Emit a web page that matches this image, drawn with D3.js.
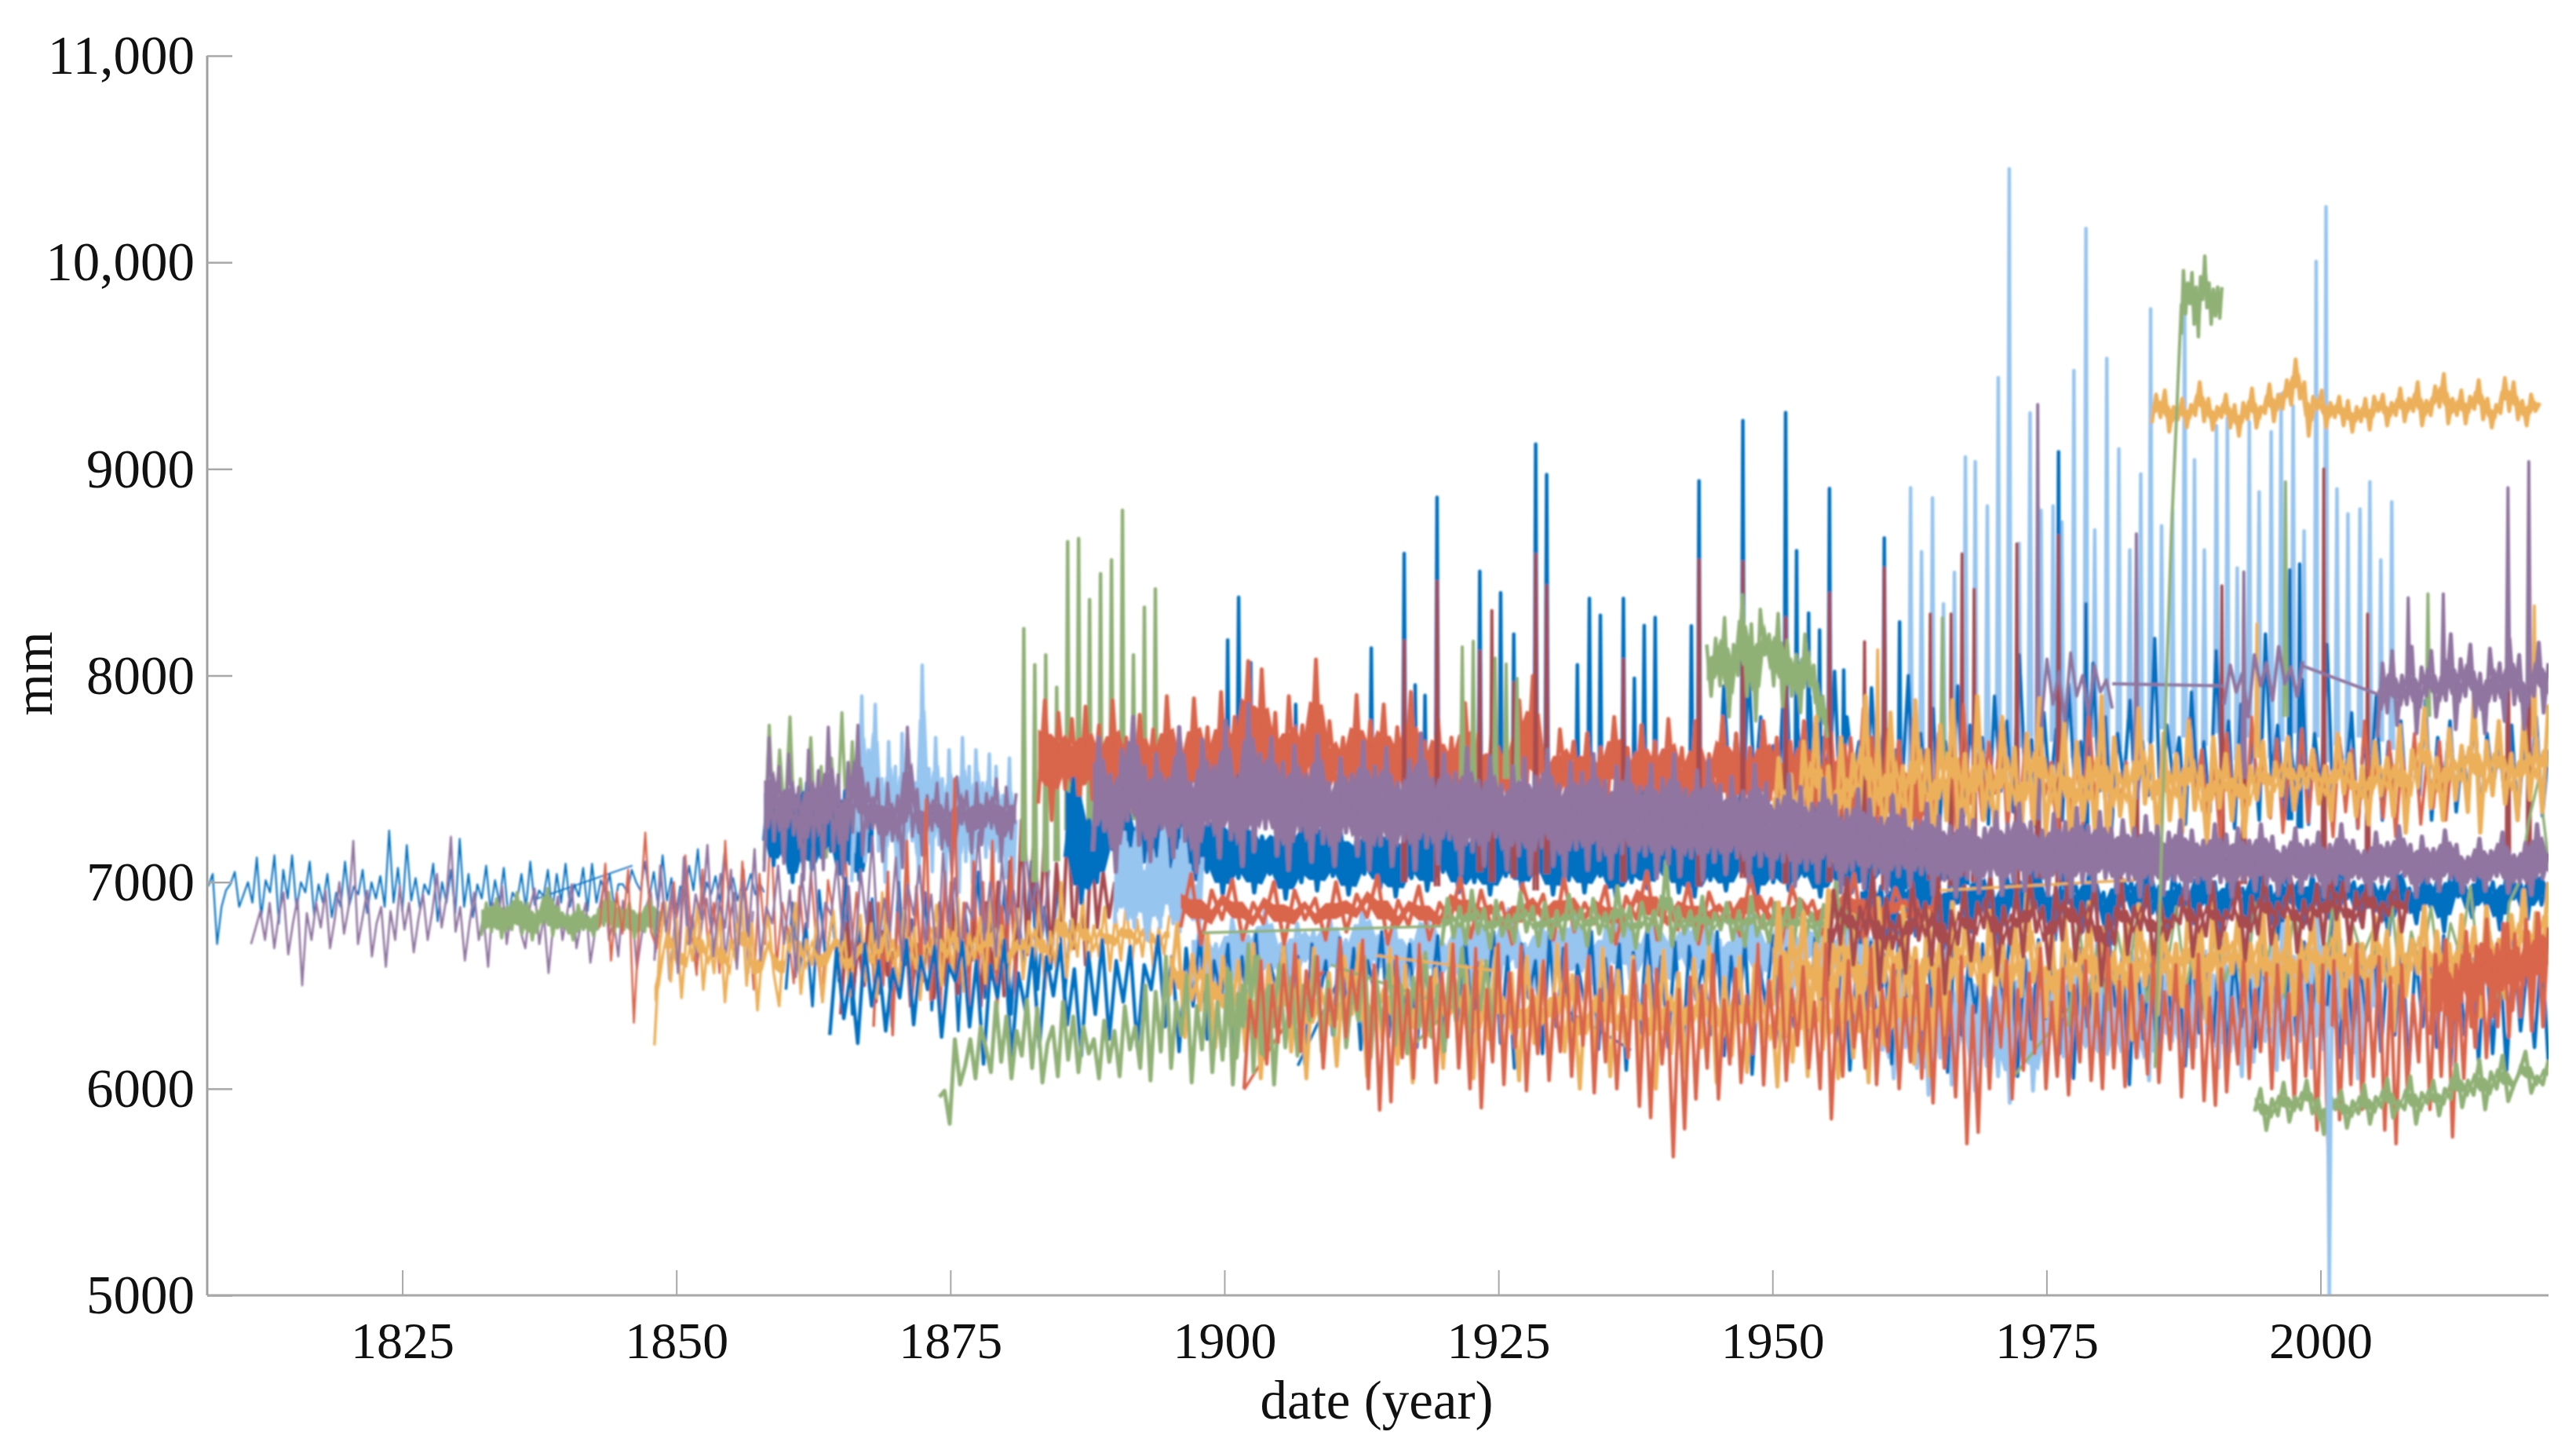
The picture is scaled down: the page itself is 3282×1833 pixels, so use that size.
<!DOCTYPE html>
<html>
<head>
<meta charset="utf-8">
<script src="https://cdn.jsdelivr.net/npm/d3@7"></script>
<style>
  html, body { margin: 0; background: #fff; }
  text { font-family: "Liberation Serif", "Times New Roman", serif; fill: #111; }
</style>
</head>
<body>
<script>
const yTicks = [5000, 6000, 7000, 8000, 9000, 10000, 11000];
const yLabels = ["5000", "6000", "7000", "8000", "9000", "10,000", "11,000"];
const xTicks = [1825, 1850, 1875, 1900, 1925, 1950, 1975, 2000];

// early records, 1807-1858
const blueEarly = [6980,7040,6700,6880,6960,6990,7050,6880,6940,7000,6900,7120,6830,7010,6950,7130,6800,7060,6920,7130,6870,7000,6950,7100,6840,6990,6900,7040,6830,6950,6880,7100,6890,6980,6940,7060,6850,7000,6920,7030,6880,7250,6900,7070,6860,7180,6910,7020,6870,6990,6940,7090,6810,7000,6900,7060,6850,7210,6880,7040,6830,6990,6920,7080,6860,7010,6900,7070,6840,6950,6910,7040,6870,7100,6890,6960,6930,7060,6850,7040,6900,7090,6880,6990,6930,7070,6860,7090,6900,7010,6950,7040,6880,6990,6990,6950,7060,7000,6960,7100,6930,7050,6880,7130,6910,7020,6850,6980,6930,7080,6960,7160,6880,7000,6940,7030,6900,7140,6950,7020,6910,6990,6960,7040,6940,7000,6950];
const purpleEarly = [6700,6780,6860,6720,6900,6680,6840,6950,6650,6800,6920,6500,6850,6720,6900,6780,6960,6680,6820,7000,6750,6880,7200,6700,6830,6960,6640,6800,6880,6590,6860,6720,6980,6770,6900,6660,6820,6940,6720,6860,7040,6780,6920,7220,6760,6880,6620,6800,6950,6720,6840,6590,6900,6780,6980,6700,6860,6920,6760,6680,6880,6970,6700,6840,6560,6790,6930,6720,6850,6990,6680,6800,6900,6610,6760,6880,7000,6720,6820,6640,6910,6780,6860,6580,6740,6880,6950,6660,6810,6900,6530,6770,6880,7010,6700,6840,6600,6800,6920,6760,6880,7040,6620,6820,6950,6700,7060,6560,6860];
const greenEarly = [6740,6900,6760,6920,6730,6880,6770,6950,6750,6900,6720,6860,6800,6970,6740,6880,6780,6840,6720,6890,6770,6830,6740,6870,6790,6950,6750,6880,6770,6900,6730,6850,6760,6920,6740,6860];
const redEarly = [6780,7090,6620,6950,6750,7060,6320,6840,7240,6760,6680,6900,6700,7000,6640,7130,6780,6550,7060,6690,6900,6560,7200,6740,6600,7100,6820,6480,7040,6700,7300,6580,6900,6760,6510,6980,6640,7050,6700,6420,7010,6830,6570,7180,6640,6950,6480,6860,6720];
const orangeEarly = [6210,6700,6900,6520,6820,6440,6780,6620,6900,6480,6750,6560,6860,6420,6720,6620,6950,6500,6800,6380,6700,6840,6560,6400,6780,6660,6900,6460,6720,6600,6820,6420,6700,6860,6540,6760,6450,6690,6840,6520,6800,6440,6950,6620,6720,6480,6860,6580,6780,6430,6720,6650,6890,6500,6800,6560,6920,6470,6750,6620,6830,6510,6930,6580,6790,6460,6700,6870,6530,6810,6620,6900,6480,6760,6590,7000,6540,6820,6640,6930,6560,6790,6640,6880,6570,6850,6620,6900,6600,6820,6640,6880,6580,6780,6650,6840];
const purpleMix = [6620,7080,6760,6980,6560,7120,6700,6940,6820,7180,6640,6900,6780,7060,6580,7000,6740,7160,6620,6880,6800,7080,6700,6960,6540,7040,6780,7200,6650,6900,6840,7100,6720,6980,6600,7060,6800,7220,6680,6920,6760,7120,6620,6990,6840,7080,6700,6940,6580,7140,6780,7020,6660,6900,6820,7240,6720,7000,6640,7100,6800,6960,6700,7180,6860,7020,6760,7060];
const blueMix = [6480,6900,6560,6800,6400,6960,6620,6840,6520,7020,6360,6780,6580,6920,6460,6840,6300,7000,6600,6820,6500,6950,6380,6780,6560,6900,6280,6860,6620,7050,6440,6800,6540,6980,6360,6840,6600,7100,6480,6880,6580,7000,6420,6820];
// dense block that starts in 1858
const green1858 = [7100,7760,7200,7640,7300,7800,7150,7500,7280,7700,7180,7560,7120,7600,7240,7820,7200,7680,7160,7440];
const blue1858 = [7200,7460,7080,7400,7130,7380,7000,7420,7100,7480,7060,7360,7120,7500,7150,7390,7040,7440,7090,7350,7010,7400,7150,7320];
const purple1858 = [7050,7700,7200,7560,7090,7620,7230,7460,7010,7640,7190,7540,7060,7750,7150,7520,7020,7580,7240,7760,7130,7480,7260,7500,7100,7480,7200,7420,7070,7750,7220,7450,7130,7420,7250,7480,7160,7430,7040,7510,7280,7440,7140,7480,7180,7430,7260,7500,7100,7460,7210,7430];
const ltBlue1866 = [7000,7560,7250,7900,7100,7640,7320,7860,7150,7500,7000,7680,7200,7560,6900,7720,7100,7640,7200,7480,7000,8050,7200,7550,7050,7700,7180,7500,6980,7640,7200,7470,6950,7700,7100,7560,7000,7640,7240,7480,7120,7620,7000,7560,7100,7420,7020,7600,6950,7300];
const redBand1868 = [6300,6900,6500,7050,6260,6850,6620,7200,6450,6980,6560,7400,6430,6780,6350,7050,6600,7500,6510,6900,6360,7100,6540,7000,6480,7200,6380,6880,6600,7120,6420];
const darkRed1865 = [6360,6800,6450,6700,6500,6900,6420,6760,6550,6660,6470,6850,6400,6700,6520,6800,6440,6900,6500,7000,6460,6760,6560,6830,6400,6900,6530,7000,6450,7100,6560,7300,6650,7160,6700,7250,6620,7090,6750,7300,6680,7180,6600,7200,6780,7050,6830,7000];
const greenLow1874 = [5960,5990,5830,6240,6020,6110,6240,6050,6300,6200,6080,6420,6130,6350,6050,6280,6160,6430,6100,6390,6030,6220,6300,6060,6420,6140,6350,6080,6300,6170,6240,6050,6330,6130,6280,6060,6400,6190,6300,6100,6500,6040,6470,6180,6640,6100,6420,6260,6550,6030,6400,6190,6550,6080,6420,6140,6580,6020,6460,6300,6700,6080,6640,6160,6500,6020,6400];
const greenSpikeLows = [7100,7000,7050,7100,7250,7300,7200,7150,7300,7350,7300,7250,7300,7350];
const greenSpikeYears = [1881.7,1882.7,1883.7,1884.7,1885.7,1886.7,1887.7,1888.7,1889.7,1890.7,1891.7,1892.7,1893.7];
const greenSpikePeaks = [8227,8052,8100,7943,8648,8663,8368,8493,8560,8800,8100,8331,8419];
// long bands
const redUpper = [7380,7880,7300,7820,7450,7790,7320,7850,7400,7760,7260,7880,7380,7700,7340,7810,7420,7740,7260,7900,7360,7680,7320,7890,7400,7750,7280,7920,7350,7800,7440,8070,7300,8030,7380,7820,7260,7900,7420,7760,7360,8078,7300,7780,7440,7700,7350,7906,7300,7780,7420,7860,7320,7750,7400,7921,7310,7680,7440,7790,7360,7700,7320,7867,7400,7720,7300,7750,7450,7660,7320,7880,7400,7998,7350,7640,7280,7740,7420,7680,7340,7720,7300,7650,7380,7800,7420,7650,7300,7760,7360,7680,7280,7790,7380,7650,7260,7780,7320,7620,7400,7800,7290,7720,7350,7650,7300,7780,7400,7700,7260,7680,7320,7780,7280,7620,7260,7720,7240,7660,7300,7580,7200,7700,7180,7580,7280,7680,7160,7620,7220,7560];
const blueMain = [7120,7500,6900,7300,7000,7350,7160,7450,6980,7260,7100,7400,6950,7300,7080,7320,6960,7250,7050,7340,6940,7280,7020,7300,6950,7220,7040,7260,6920,7240,7000,7320,6960,7280,7030,7240,6940,7200,7040,7280,6970,7250,6930,7210,7020,7290,6960,7230,7050,7300,6950,7200,7000,7280,6940,7240,7030,7260,6970,7190,7040,7270,6940,7230,7010,7280,6950,7240,7030,7180,6930,7260,7000,7230,6970,7190,7040,7280,6950,7210,6930,7260,7010,7190,6960,7230,7050,7170,6940,7250,7000,7200,6960,7240,7030,7190,6930,7230,7010,7160,6950,7260,6980,7210,7040,7180,6920,7240,6990,7170,6940,7210,7020,7180,6960,7140];
const redMid = [6780,7040,6700,6960,6820,7010,6720,6900,6800,7000,6700,6960,6820,6920,6720,7000,6760,6940,6830,7030,6700,6910,6790,6980,6720,6900,6810,7020,6730,6960,6780,6900,6700,6990,6820,6940,6720,7020,6760,6900,6800,6980,6700,6930,6820,7050,6720,6900,6770,6990,6700,6950,6810,6900,6740,7030,6780,6920,6700,6980,6820,6910,6740,6960,6790,7040,6700,6900,6780,6970,6830,6910,6720,6980];
const purpleMain = [7150,7700,7250,7520,7050,7640,7300,7800,7180,7560,7100,7620,7260,7500,7120,7750,7200,7480,7050,7690,7280,7560,7120,7780,7210,7500,7080,7860,7150,7620,7260,7700,7130,7580,7060,7660,7250,7520,7100,7710,7190,7480,7080,7600,7240,7520,7130,7680,7060,7560,7180,7650,7080,7480,7200,7590,7060,7720,7170,7500,7090,7620,7210,7530,7040,7650,7150,7490,7080,7610,7220,7470,7060,7560,7130,7600,7040,7510,7170,7640,7080,7470,7030,7580,7160,7530,7060,7620,7110,7490,7020,7560,7140,7600,7050,7460,7130,7570,7020,7500,7090,7620,7030,7450,7120,7540,7010,7590,7100,7470,7040,7510,7120,7440,7000,7570,7080,7480,7020,7400,7100,7520,6980,7460,7060,7380,7000,7500,7080,7420,6950,7350,7060,7450,6970,7400,7040,7310,6950,7420,7030,7350,6980,7300,7040,7380,6940,7320,7010,7270,6930,7350,7020,7300,6950,7260,7030,7340,6940,7280,7000,7380,6960,7290,7030,7250,6940,7330,7020,7290,6930,7360,7000,7270,6960,7340,7020,7260,6950,7300,7010,7260,6930,7320,6990,7270,6940,7240,7010,7300,6920,7250,7000,7200,6950,7280,7000,7230,6930,7260,7010,7200,6960,7280,6990,7220,6940,7170,7000,7260,6950,7200,7030,7240,6930,7180,6990,7280,6960,7200,7020,7150,6940,7240,7000,7190,6970,7270,7030,7180,6930,7220,7000,7160,6960,7250,7020,7180,6950,7120,7010,7210,6960,7150,7030,7240,6950,7130,7000,7190,6940,7280,7020,7140];
const redLow = [6000,6430,6250,6620,6120,6500,6224,6600,6300,6700,6180,6570,6350,6640,6100,6480,6300,6720,6250,6570,6380,6720,6000,6600,5897,6520,5937,6640,6150,6480,6050,6700,6200,6540,6030,6560,6250,6700,6100,6500,6000,6680,5908,6480,6130,6700,6020,6560,6200,6690,5990,6480,6170,6620,6040,6460,6180,6700,6060,6540,6210,6640,5980,6480,6130,6590,6000,6450,6150,6620,5915,6500,5860,6580,6120,6420,5671,6480,5806,6540,5950,6500,6100,6650,5950,6430,6120,6580,6030,6450,6170,6700,6018,6520,6200,6640,6040,6480,6210,6590,6100,6420,6000,6700,5854,6480,6060,6620,6200,6450,6100,6680,6020,6480,6180,6600,6000,6440,6130,6620,6050,6500,5931,6580,6100,6470,5960,6640,5734,6400,5789,6550,6000,6490,6200,6620,5950,6480,6090,6560,6170,6680,6000,6420,6060,6580,5970,6500,6130,6620,6040,6460,6000,6680,6100,6520,6010,6600,6150,6450,6070,6640,6030,6470,6190,6600,5960,6500,6100,6650,5942,6440,5920,6580,5985,6440,6120,6620,6050,6480,6180,6560,6000,6600,6140,6460,5920,6620,6060,6500,5800,6600,5691,6620,5850,6480,6020,6700,5900,6530,6060,6640,5800,6540,5734,6600,6000,6450,6130,6680,5900,6550,6060,6620,5767,6500,6050,6650,6200,6700,6150,6600,6300,6800,6250,6750,6350,6820,6280,6850,6300,6780];
const orangeLow = [6450,6800,6250,6650,6380,6750,6200,6640,6300,6620,6180,6700,6050,6600,6330,6700,6180,6620,6050,6680,6240,6560,6110,6640,6360,6700,6060,6580,6230,6680,6120,6600,6030,6650,6260,6580,6100,6700,6200,6590,6050,6620,6240,6680,6130,6560,6040,6640,6220,6600,6090,6700,6180,6550,6000,6620,6150,6680,6060,6570,6210,6640,6110,6590,6000,6670,6170,6560,6080,6630,6200,6700,6030,6540,6160,6640,6080,6600,6220,6520,6010,6660,6130,6590,6060,6620,6190,6540,6050,6680,6150,6590,6030,6640,6210,6560,6080,6700,6120,6580,6060,6630];
const blueLow = [6260,6680,6340,6560,6220,6700,6400,6620,6280,6580,6440,6720,6310,6640,6480,6690,6250,6600,6520,6710,6300,6620,6120,6600,6440,6720,6140,6560,6380,6680,6200,6640,6450,6700,6310,6580,6160,6660,6360,6720,6240,6620,6420,6690,6200,6600,6480,6740,6300,6640,6180,6680,6400,6760,6240,6620,6450,6700,6170,6640,6340,6760,6210,6600,6480,6710,6280,6640,6120,6700,6420,6620,6260,6730,6380,6680,6190,6620,6460,6760,6250,6640,6350,6700,6200,6590,6420,6740,6180,6660,6330,6720,6270,6610,6400,6760,6220,6640,6100,6700,6440,6620,6170,6740,6300,6680,6220,6600,6420,6760,6190,6630,6330,6700,6090,6660,6270,6780,6370,6640,6200,6710,6120,6690,6430,6620,6260,6760,6160,6640,6340,6720,6070,6600,6400,6740,6210,6680,6300,6620,6130,6730,6420,6660,6220,6780,6090,6610,6330,6710,6250,6650,6120,6760,6430,6630,6180,6700,6320,6660,6080,6740,6260,6600,6370,6700,6150,6660,6430,6780,6060,6640,6240,6720,6340,6610,6170,6740,6050,6680,6300,6620,6140,6760,6400,6640,6020,6700,6240,6640,6150,6780,6330,6610,6110,6700,6270,6640,6230,6760,6140,6650,6300,6600,6200,6720,6270,6680,6170,6620,6240,6710,6320,6640,6220,6760,6150,6650,6280,6600,6330,6720,6180,6640,6260,6700,6090,6660,6300,6620,6200,6740,6110,6680,6260,6630,6130,6700,6170,6650,6090,6720,6280,6610,6200,6700,6120];
const blueUpper = [7300,7950,7400,7720,7250,8050,7450,7800,7300,7660,7500,8120,7340,7740,7480,7900,7280,7700,7420,8020,7300,7800,7520,7680,7260,7940,7440,7760,7350,7640,7480,8000,7300,7720,7420,7840,7250,7680,7460,7950,7320,7760,7520,7700,7280,7900,7440,7780,7340,8100,7480,7690,7260,7820,7420,7740,7300,7960,7500,7680,7320,8060,7440,7800,7260,7720,7480,7880,7340,7680,7420,8180,7300,7760,7500,7700,7280,7920,7440,7680,7340,8120,7480,7780,7260,7860,7420,7700,7300,8200,7500,7760,7340,7660,7460,7980,7280,7720,7420,8150,7360,7680,7500,7820,7260,7700,7440,7900,7300,7680,7460,7780,7340,7640,7420,7880,7300,7700,7480,7780,7340,7640,7420,7840,7300,7720,7460,7660,7380,7760,7300,7680,7440,7800,7320,7640];
const blueMid = [6700,7040,6820,6980,6650,7060,6880,6960,6740,7100,6850,7000,6680,7040,6900,6980,6760,7080,6840,6960,6700,7050,6880,7000,6780,7100,6830,6960,6720,7040,6900,6990,6760,7080,6860,6950,6700,7060,6910,7000,6780,7110,6850,6980,6720,7040,6890,6960,6800,7090,6860,7000,6740,7050,6920,6970,6780,7100,6850,6980,6720,7060,6900,7000,6800,7040,6870,6960,6760,7090,6920,7000,6810,7050,6860,6980,6740,7100,6900,6970,6800,7040,6880,7010,6760,7080,6930,6980,6830,7050,6880,7000,6770,7060,6920,6990,6820,7080,6890,7000];
const redHigh = [7220,7680,7340,7560,7180,7760,7400,7600,7260,7700,7380,7840,7240,7620,7420,7740,7300,7580,7200,7790,7360,7640,7280,7720,7440,7560,7220,7860,7380,7620,7300,7680,7430,7780,7240,7600,7360,7720,7280,7640,7420,7580,7200,7750,7340,7620,7280,7820,7400,7600,7250,7690,7380,7580,7300,7760,7420,7620,7220,7680,7360,7560,7280,7790,7400,7640,7300,7580,7200,7720,7350,7610,7260,7800,7420,7620,7310,7690,7240,7580,7380,7740,7290,7620,7410,7560,7220,7700,7340,7640,7260,7780,7400,7580,7310,7680,7220,7620,7380,7720,7280,7590,7360,7680,7300,7620];
const ltBlueBand1892 = [6800,7320,6880,7240,6820,7160,6780,7300,6860,7050,6720,7200,6840,7110,6780,7300,6900,7060,6800,7150,6760,7260,6870,7080,6820,6980,6780,7120];
const ltBlueMid = [6480,6780,6560,6700,6420,6820,6600,6740,6500,6860,6580,6700,6440,6800,6620,6760,6520,6840,6560,6720,6460,6880,6600,6740,6540,6800,6430,6720,6620,6860,6510,6700,6580,6790,6450,6840,6620,6730,6530,6870,6590,6700,6470,6810,6640,6760,6500,6850,6570,6720,6440,6790,6610,6880,6530,6700,6600,6830,6470,6740,6630,6800,6510,6860,6580,6720,6450,6780,6620,6840,6520,6710,6600,6870,6480,6750,6640,6800,6530,6720,6580,6850,6460,6770,6620,6700];
const ltBlueLow1960 = [6180,6500,6050,6620,6200,6450,6100,6600,5970,6500,6150,6700,6020,6480,6230,6640,5990,6560,6110,6440,6060,6700,5931,6520,6180,6620,5990,6460,6130,6700,6200,6560,6040,6640,6150,6500,6110,6700,6040,6620,6190,6480,6090,6660,6150,6540,6040,6720,6180,6560,6230,6620,6120,6480,6200,6780,6260,6550,6100,6680,6180,6520,6060,6760,6130,6600,6230,6720,6090,6820,6150,6640,6230,6700,6100,6830,6190,6660,6300,6720,6220,6600,6050,6680,6340,6590];
const ltBlueSpikeYears = [1962.6,1963.6,1964.6,1965.6,1966.6,1967.6,1968.5,1969.6,1970.6,1971.6,1972.5,1973.5,1974.5,1975.6,1976.4,1977.5,1978.6,1979.4,1980.5,1981.6,1982.6,1983.6,1984.5,1985.5,1986.5,1987.6,1988.5,1989.4,1990.5,1991.5,1992.4,1993.5,1994.4,1995.5,1996.4,1997.5,1998.5,1999.6,2000.5,2001.5,2002.5,2003.6,2004.5,2005.5,2006.5];
const ltBlueSpikePeaks = [8909,8599,8860,8347,8500,9058,9035,8821,9442,10453,8640,9271,8800,8821,8744,9476,10164,8705,9535,9097,8608,8976,9775,8725,8800,9878,9044,8608,9209,9248,8521,9228,8889,9180,9364,9306,8700,10004,10269,8903,8783,8806,8938,8560,8841];
const ltBlueSpikeLows = [7500,7600,7480,7650,7520,7700,7560,7620,7700,7540,7650,7700,7580,7680,7720,7600,7660,7700,7560,7640,7720,7600,7680,7740,7620,7700,7580,7660,7720,7640,7590,7700,7650,7600,7680,7720,7640,7700,7580,7660,7600,7700,7620,7680,7640];
const blueSpikeYears = [1900.3,1901.3,1902.4,1906.5,1913.4,1916.4,1917.4,1918.3,1919.4,1923.3,1925.2,1926.4,1928.4,1929.4,1932.2,1933.3,1934.3,1936.4,1937.4,1938.3,1939.3,1942.6,1943.3,1947.3,1951.2,1952.2,1953.3,1954.3,1955.2,1956.5,1960.2,1961.6,1974.2,1976.1,1978.6,1997.2,1998.1];
const blueSpikePeaks = [8172,8379,8063,7860,8133,8591,7954,7904,8863,8504,8401,8200,9120,8973,8052,8373,8292,8373,7987,8242,8281,8240,8942,9234,9273,8604,8302,8220,8905,8027,8666,8259,8300,9083,8347,8511,8540];
const blueSpikeLows = [7300,7350,7280,7340,7320,7260,7300,7280,7240,7320,7290,7260,7280,7310,7260,7300,7230,7280,7250,7300,7260,7320,7240,7280,7300,7220,7310,7260,7240,7280,7300,7220,7260,7300,7240,7300,7260];
const darkRedSpikeYears = [1916.4,1919.4,1923.3,1924.4,1926.4,1928.4,1929.4,1936.4,1943.3,1947.3,1951.2,1955.2,1958.4,1960.2,1964.4,1966.3,1967.3,1968.4,1972.3,1974.2,1976.1,1983.2,1991,1993,2000.3,2004.3,2017.1,2019];
const darkRedSpikePeaks = [8168,8456,8118,8314,7965,8586,8434,8078,8560,8550,8279,8399,8163,8521,8298,8298,8589,8418,8637,8821,8676,8443,8434,8279,9000,8298,8599,8579];
const darkRedSpikeLows = [7000,6980,7050,7000,7020,6960,7040,7000,6980,7020,6990,7000,7040,6960,7010,6980,7030,7000,6960,7020,6990,7010,7040,6990,6970,7010,7040,6990];
const purpleSpikeYears = [1974.2,1983.2,1993,2008,2011.2,2017.1,2019];
const purpleSpikePeaks = [9312,8686,8502,8376,8395,8909,9035];
const purpleSpikeLows = [7300,7400,7500,7950,7950,7950,7950];
const greenOddYears = [1921.7,1922.7,1924.7,1925.7,1926.7,1965.5,1996.8,2009.8];
const greenOddPeaks = [8139,8166,8085,8056,7987,8279,8938,8395];
const greenOddLows = [7500,7480,7460,7500,7440,7600,7800,7800];
const orangeOddYears = [1959.6,1994.2,2019.5];
const orangeOddPeaks = [8124,8250,8337];
const orangeOddLows = [7500,7600,7700];
// late records
const orangeHigh = [9220,9360,9250,9380,9180,9300,9240,9340,9200,9310,9260,9420,9230,9340,9190,9300,9250,9360,9200,9310,9160,9320,9240,9390,9200,9300,9270,9410,9230,9360,9290,9430,9310,9530,9340,9420,9160,9350,9290,9380,9200,9320,9250,9350,9210,9330,9180,9300,9230,9340,9190,9350,9280,9360,9210,9320,9260,9390,9230,9340,9280,9420,9210,9330,9260,9400,9300,9460,9220,9340,9260,9380,9220,9350,9290,9430,9240,9340,9200,9310,9270,9440,9280,9420,9240,9330,9210,9360,9280,9320];
const greenRiseYears = [1984.9,1985.4,1985.9,1986.4,1986.9,1987.3];
const greenRiseVals = [6100,7000,7900,8700,9300,9800];
const greenTop = [9650,9960,9750,9900,9800,9950,9700,9880,9640,9930,9820,10030,9780,9900,9700,9870,9740,9880,9730,9880];
const greenMid1944 = [8150,7900,8180,7950,8280,7800,8150,8000,8390,7900,8250,7780,8320,8100,8200,7950,8300,7850,8170,7900,8100,7820,8200,7950,8050,7780,7900,7700];
const greenLow1994 = [5890,6000,5800,5950,5870,6030,5840,5960,5900,6040,5880,5950,5780,5980,5900,5990,5810,5940,5880,6020,5830,5960,5910,6050,5860,5940,5900,6060,5830,5980,5930,6040,5870,6000,5950,6120,5910,6040,5970,6140,5900,6080,6000,6160,5940,6020,6080,6180,5980,6060,6020,6140];
const greenBand1905 = [6200,6560,6150,6500,6290,6640,6170,6480,6300,6600,6200,6540,6160,6500,6330,6640,6180,6520,6260,6600,6200,6480,6330,6640,6150,6520,6290,6600,6210,6500,6170,6540,6300,6660,6250,6500,6180,6600,6330,6680,6220,6560,6380,6620,6270,6700];
const greenBand1920 = [6690,6920,6730,6880,6700,6960,6750,6870,6680,6910,6740,6840,6710,6950,6760,6880,6690,6900,6730,6860,6720,6940,6770,6870,6690,6920,6750,6850,6710,6980,6740,6880,6680,6900,6760,6860,6720,7100,6690,6880,6750,6860,6720,6930,6700,6850,6770,6900,6720,6860,6690,6930,6740,6840,6710,6900,6760,6880,6690,6920,6730,6850,6710,6890,6750,7000,6700,6860,6750,6880];
const greenBand1975 = [6300,6820,6450,6700,6380,6760,6500,6840,6420,6700,6560,6880,6480,6760,6340,6820,6520,6700,6400,6900,6560,6780,6440,6860,6620,6740,6500,6900,6380,6800,6640,6760,6520,6900,6440,6760,6580,6880,6500,6800,6640,6980,6540,6760,6400,6900,7000,7300,7500,7100];
const orangeUpper = [7150,7600,7250,7520,7120,7680,7300,7800,7200,7560,7100,7700,7250,7620,7340,7900,7200,7700,7120,7820,7280,7560,7180,7880,7350,7640,7140,7760,7300,7880,7220,7620,7100,7900,7300,7560,7200,7800,7350,7650,7160,7720,7280,7890,7220,7560,7320,7780,7140,7680,7300,7600,7220,7900,7100,7700,7320,7560,7240,7840,7380,7660,7200,7720,7300,7620,7240,7780,7350,7560,7170,7700,7360,7620,7300,7660,7220,7560,7400,7680,7320,7580,7420,7700,7350,7560,7460,7640,7380,7560,7300,7720,7430,7620,7320,7560,7280,7680,7420,7600,7320,7760,7240,7640,7460,7840,7360,7600,7300,7740,7400,7660,7340,7900,7240,7680,7420,7780,7380,7620,7300,7800,7400,7700,7340,7860];
const orangeLower = [6400,6900,6250,6780,6500,6850,6300,6700,6450,6960,6350,6800,6500,6840,6280,6720,6400,6920,6520,6760,6360,6880,6460,6680,6320,6860,6500,6720,6260,6900,6420,6800,6550,6700,6340,6860,6480,6740,6300,6820,6450,6950,6520,6700,6350,6780,6220,6840,6480,6720,6400,6900,6300,6780,6500,6660,6380,6800,6240,6890,6500,6720,6360,6820,6460,6700,6400,6880,6540,6780,6320,6900,6480,6750,6560,6840,6400,6700,6500,6880,6300,6740,6470,6830,6360,6720,6520,6850,6420,6700,6560,6880,6340,6780,6500,6700,6400,6830,6540,6760,6280,6820,6450,6720,6560,6880,6380,6760,6520,6700,6440,6840,6560,6780,6350,6880,6500,6720,6440,6840,6600,6960,6500,6850,6620,7000];
const darkRedMid = [6520,6960,6700,7020,6600,6880,6750,7060,6480,6920,6680,6840,6560,7000,6720,6900,6600,7050,6460,6860,6700,6980,6620,6900,6780,7040,6550,6880,6700,6960,6640,7030,6760,6880,6580,6980,6720,7060,6620,6900,6760,7000,6500,6840,6700,7020,6650,6880,6770,6980,6600,6910,6720,6840,6800,7040,6640,6890,6740,7000,6680,6860,6820,7000,6620,6930,6750,7050,6700,6900,6830,7020,6660,6910,6770,6990,6700,7060,6820,7000,6700,6950,6780,7080,6720,6900,6840,7020,6760,6960];
const redLate = [6260,6650,6380,6720,6200,6600,6420,6760,6300,6690,6460,6820,6350,6700,6480,6800,6380,6680,6500,6760,6420,6850,6520,6780];
const purpleUpper1974 = [7750,8080,7860,8020,7780,8110,7900,8000,7810,8050,7920,7980,7840];
const purpleUpper1991 = [7860,8050,7920,8010,7800,8100,7950,8060,7880,8140,7960,8040,7900,8070];
const purpleUpper2005 = [7700,8060,7820,8120,7760,8000,7860,8140,7720,8040,7900,8120,7800,7990,7880,8200,7740,8080,7900,8150,7800,8010,7720,8130,7880,8060,7780,8180,7860,8100,7740,8020,7900,8160,7820,8060];
// straight stretches where a record has a gap
const blueGapYears = [1837, 1846];
const blueGapVals = [6915, 7080];
const purpleGapYears = [1981, 1991.2];
const purpleGapVals = [7960, 7950];
const purpleGap2Years = [1998.4, 2005.2];
const purpleGap2Vals = [8046, 7910];
const greenGapYears = [1898, 1919.8];
const greenGapVals = [6755, 6787];
const greenGap2Years = [1909.7, 1920.7, 1917.4];
const greenGap2Vals = [6600, 6395, 6220];
const greenGap3Years = [1971.7, 1977];
const greenGap3Vals = [6040, 6389];
const orangeGapYears = [1913.8, 1925];
const orangeGapVals = [6645, 6569];
const orangeGap2Years = [1965.3, 1983];
const orangeGap2Vals = [6960, 7010];
const blueGap2Years = [1931.4, 1937.1];
const blueGap2Vals = [6373, 6187];
const blueGap3Years = [1906.7, 1910.2];
const blueGap3Vals = [6111, 6504];
const redGapYears = [1901.8, 1904.5, 1909];
const redGapVals = [5995, 6224, 6570];
const ltBlueDropYears = [2000.6, 2000.8, 2001];
const ltBlueDropVals = [6400, 5000, 6300];

const blue = "#0070c0", red = "#d9654b", orange = "#ecb05a", purple = "#8f749f", green = "#90b176", ltBlue = "#96c5f0", darkRed = "#a84b50";

let width = 3282, height = 1833;
let x = d3.scaleLinear().domain([1807.2, 2020.8]).range([264, 3247]);
let y = d3.scaleLinear().domain([5000, 11000]).range([1650, 71]);

// a record with evenly spaced readings between two years
function spread(vals, from, to) {
  return vals.map((v, i) => [from + (to - from) * i / (vals.length - 1), v]);
}
// one narrow spike per entry, null breaks the line between them
function spikes(years, peaks, lows) {
  return years.flatMap((yr, i) => [[yr - 0.16, lows[i]], [yr, peaks[i]], [yr + 0.16, lows[i]], null]);
}
function pairs(years, vals) {
  return years.map((yr, i) => [yr, vals[i]]);
}
// solid middle of a record: the inner part of its local swing, trim cuts off each edge
function core(pts, trim) {
  return pts.map((p, i) => {
    let near = pts.slice(Math.max(0, i - 1), i + 2).map(q => q[1]);
    let lo = d3.min(near), hi = d3.max(near);
    return [p[0], lo + (hi - lo) * trim, hi - (hi - lo) * trim];
  });
}

// bottom layer first, trim set means the middle of the record is filled in
let layers = [
  { pts: spread(blueEarly, 1807.3, 1858), color: blue, w: 2.2 },
  { pts: pairs(blueGapYears, blueGapVals), color: blue, w: 1.8 },
  { pts: spread(purpleEarly, 1811.2, 1857), color: purple, w: 2.6 },
  { pts: spread(greenEarly, 1832.2, 1848.5), color: green, w: 4, trim: 0.2 },
  { pts: spread(redEarly, 1843, 1868), color: red, w: 2.6 },
  { pts: spread(green1858, 1858, 1867), color: green, w: 4 },
  { pts: spread(blue1858, 1858, 1868), color: blue, w: 5, trim: 0.1 },
  { pts: spread(ltBlue1866, 1866, 1881), color: ltBlue, w: 4.5, trim: 0.25 },
  { pts: spread(purple1858, 1858, 1881), color: purple, w: 4, trim: 0.32 },
  { pts: spread(blueMix, 1860, 1886), color: blue, w: 3.5 },
  { pts: spread(darkRed1865, 1865, 1890), color: darkRed, w: 4.5 },
  { pts: spread(redBand1868, 1868, 1881), color: red, w: 3.5 },
  { pts: spread(orangeEarly, 1848, 1895), color: orange, w: 3.5, trim: 0.42 },
  { pts: spread(purpleMix, 1848, 1884), color: purple, w: 2.8 },
  { pts: spikes(greenSpikeYears, greenSpikePeaks, greenSpikeLows), color: green, w: 4.5 },
  { pts: spikes(ltBlueSpikeYears, ltBlueSpikePeaks, ltBlueSpikeLows), color: ltBlue, w: 4.5 },
  { pts: spread(ltBlueLow1960, 1960, 2005), color: ltBlue, w: 5, trim: 0.2 },
  { pts: spread(ltBlueMid, 1897, 1960), color: ltBlue, w: 5, trim: 0.2 },
  { pts: spread(blueLow, 1864, 2020.8), color: blue, w: 4.5 },
  { pts: pairs(blueGap2Years, blueGap2Vals), color: blue, w: 3.5 },
  { pts: pairs(blueGap3Years, blueGap3Vals), color: blue, w: 3.5 },
  { pts: spikes(blueSpikeYears, blueSpikePeaks, blueSpikeLows), color: blue, w: 4.5 },
  { pts: spread(blueUpper, 1945, 2020.8), color: blue, w: 4.5 },
  { pts: spread(redUpper, 1883, 1964), color: red, w: 5, trim: 0.28 },
  { pts: spread(blueMain, 1885.5, 1968), color: blue, w: 5.5, trim: 0.14 },
  { pts: spread(ltBlueBand1892, 1890, 1898), color: ltBlue, w: 5, trim: 0.1 },
  { pts: spread(blueMid, 1958, 2020.8), color: blue, w: 5, trim: 0.25 },
  { pts: spikes(darkRedSpikeYears, darkRedSpikePeaks, darkRedSpikeLows), color: darkRed, w: 4 },
  { pts: spikes(purpleSpikeYears, purpleSpikePeaks, purpleSpikeLows), color: purple, w: 4 },
  { pts: spikes(greenOddYears, greenOddPeaks, greenOddLows), color: green, w: 4 },
  { pts: spread(redHigh, 1952, 2012), color: red, w: 4 },
  { pts: pairs(redGapYears, redGapVals), color: red, w: 3.5 },
  { pts: spread(orangeLow, 1895, 1965), color: orange, w: 5, trim: 0.42 },
  { pts: spread(redMid, 1896, 1965), color: red, w: 5, trim: 0.36 },
  { pts: spread(greenLow1874, 1874, 1905), color: green, w: 5 },
  { pts: spread(greenBand1905, 1900, 1925), color: green, w: 5 },
  { pts: pairs(greenGap2Years, greenGap2Vals), color: green, w: 3.5 },
  { pts: pairs(greenGapYears, greenGapVals), color: green, w: 3.5 },
  { pts: pairs(orangeGapYears, orangeGapVals), color: orange, w: 3.5 },
  { pts: spread(greenBand1920, 1919.8, 1958), color: green, w: 5, trim: 0.42 },
  { pts: spread(greenMid1944, 1944, 1955), color: green, w: 4.5, trim: 0.3 },
  { pts: spread(greenBand1975, 1977, 2020.8), color: green, w: 3.5 },
  { pts: pairs(greenGap3Years, greenGap3Vals), color: green, w: 3.5 },
  { pts: spread(orangeUpper, 1950, 2020.8), color: orange, w: 5.5, trim: 0.42 },
  { pts: spread(orangeLower, 1950, 2020.8), color: orange, w: 6, trim: 0.42 },
  { pts: spread(darkRedMid, 1955, 2008), color: darkRed, w: 5, trim: 0.42 },
  { pts: spread(redLow, 1901.8, 2020.8), color: red, w: 4.5 },
  { pts: spikes(orangeOddYears, orangeOddPeaks, orangeOddLows), color: orange, w: 4 },
  { pts: pairs(orangeGap2Years, orangeGap2Vals), color: orange, w: 3.5 },
  { pts: spread(purpleMain, 1888, 2020.8), color: purple, w: 5.5, trim: 0.22 },
  { pts: spread(redLate, 2010, 2020.8), color: red, w: 5, trim: 0.3 },
  { pts: spread(purpleUpper1974, 1974.5, 1981), color: purple, w: 4 },
  { pts: pairs(purpleGapYears, purpleGapVals), color: purple, w: 4 },
  { pts: spread(purpleUpper1991, 1991.2, 1998.4), color: purple, w: 4.5 },
  { pts: pairs(purpleGap2Years, purpleGap2Vals), color: purple, w: 4 },
  { pts: spread(purpleUpper2005, 2005.2, 2020.8), color: purple, w: 5, trim: 0.36 },
  { pts: spread(greenLow1994, 1994, 2020.8), color: green, w: 5, trim: 0.36 },
  { pts: spread(orangeHigh, 1984.6, 2020), color: orange, w: 5, trim: 0.36 },
  { pts: pairs(greenRiseYears, greenRiseVals), color: green, w: 4 },
  { pts: spread(greenTop, 1987.3, 1991), color: green, w: 4.5, trim: 0.3 },
  { pts: pairs(ltBlueDropYears, ltBlueDropVals), color: ltBlue, w: 4.5 }
];

let svg = d3.select("body").append("svg")
  .attr("width", width)
  .attr("height", height)
  .style("display", "block")
  .style("background-color", "#fff");

svg.append("clipPath").attr("id", "plot")
  .append("rect")
    .attr("x", x.range()[0])
    .attr("y", y.range()[1])
    .attr("width", x.range()[1] - x.range()[0])
    .attr("height", y.range()[0] - y.range()[1]);

// the reference is a slightly soft scan
svg.append("filter").attr("id", "soft")
  .append("feGaussianBlur").attr("stdDeviation", 0.9);

let line = d3.line().defined(d => d).x(d => x(d[0])).y(d => y(d[1]));
let area = d3.area().x(d => x(d[0])).y0(d => y(d[1])).y1(d => y(d[2]));

let plot = svg.append("g")
  .attr("clip-path", "url(#plot)")
  .append("g")
  .attr("filter", "url(#soft)");

layers.forEach(layer => {
  if (layer.trim) {
    plot.append("path")
      .attr("d", area(core(layer.pts, layer.trim)))
      .attr("fill", layer.color);
  }
  plot.append("path")
    .attr("d", line(layer.pts))
    .attr("fill", "none")
    .attr("stroke", layer.color)
    .attr("stroke-width", layer.w)
    .attr("stroke-linejoin", "round");
});

// axes, ticks point inward
let xAxis = d3.axisBottom(x).tickValues(xTicks).tickFormat(d3.format("d")).tickSize(-32).tickPadding(0);
let yAxis = d3.axisLeft(y).tickValues(yTicks).tickFormat((d, i) => yLabels[i]).tickSize(-32).tickPadding(0);

let gx = svg.append("g").attr("transform", `translate(0,${y.range()[0]})`).call(xAxis);
let gy = svg.append("g").attr("transform", `translate(${x.range()[0]},0)`).call(yAxis);

gx.select(".domain").attr("d", `M${x.range()[0]},0H${x.range()[1]}`).attr("stroke", "#a8a8a8").attr("stroke-width", 3);
gy.select(".domain").attr("d", `M0,${y.range()[0]}V${y.range()[1]}`).attr("stroke", "#a0a0a0").attr("stroke-width", 3);
gx.selectAll(".tick line").attr("stroke", "#a8a8a8").attr("stroke-width", 2);
gy.selectAll(".tick line").attr("stroke", "#a8a8a8").attr("stroke-width", 2.5);
gx.selectAll(".tick text").attr("font-family", null).style("font-size", "66px").attr("dy", null).attr("y", 80);
gy.selectAll(".tick text").attr("font-family", null).style("font-size", "69px").attr("x", -16).attr("dy", "0.33em");

svg.append("text")
  .attr("x", 1754)
  .attr("y", 1807)
  .attr("text-anchor", "middle")
  .style("font-size", "69px")
  .text("date (year)");

svg.append("text")
  .attr("transform", "translate(66,858) rotate(-90)")
  .attr("text-anchor", "middle")
  .style("font-size", "69px")
  .text("mm");
</script>
</body>
</html>
